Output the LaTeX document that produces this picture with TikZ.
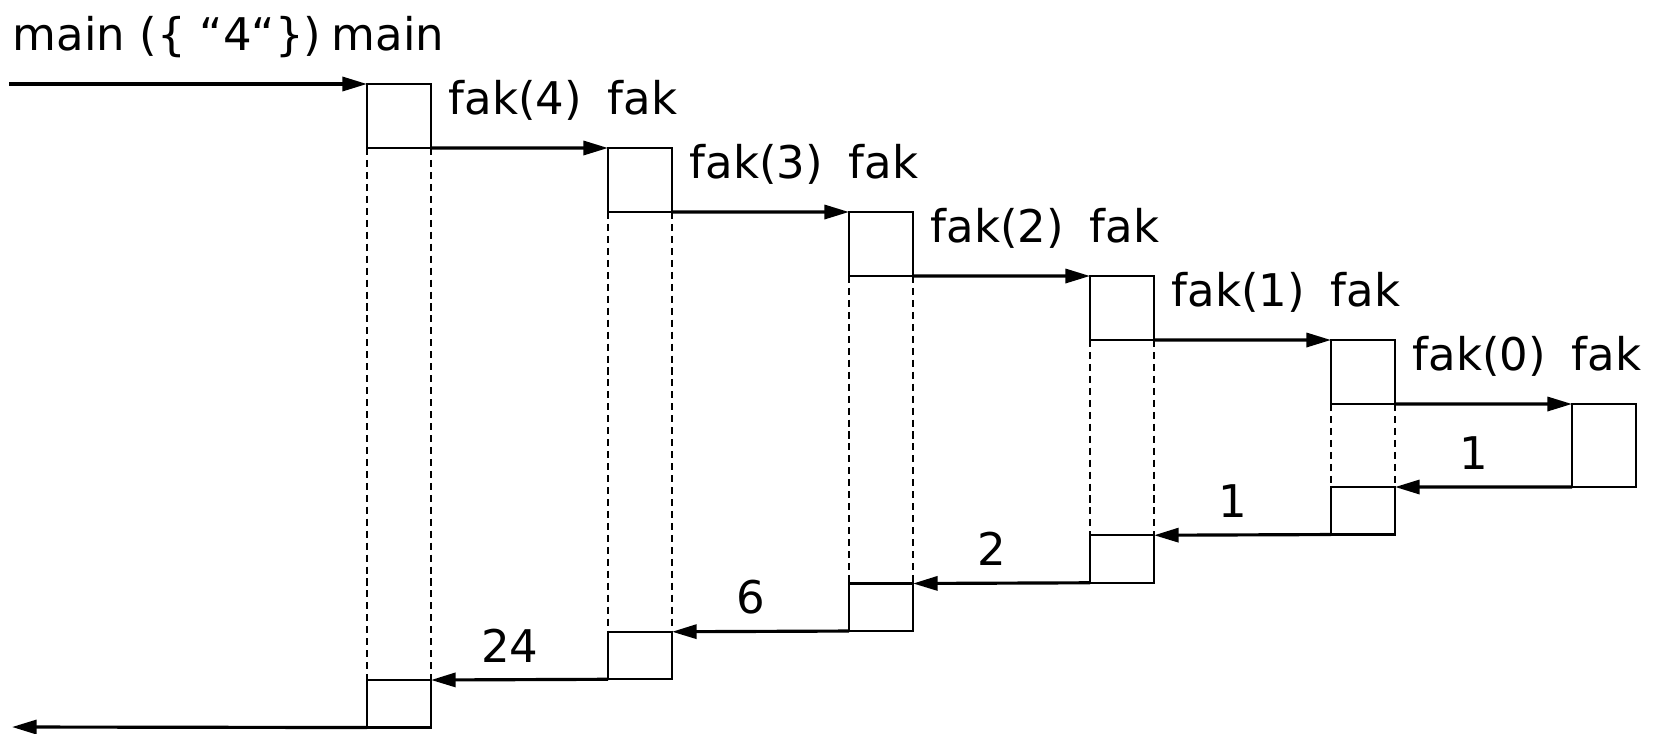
\documentclass[tikz,border=0pt]{standalone}
\usepackage{fontspec}
\setmainfont{DejaVu Sans}
\usetikzlibrary{arrows.meta}
\begin{document}
\begin{tikzpicture}[
		x=0.01cm, y=-0.01cm,
		>={Triangle[length=7pt,width=4pt]},
		box/.style={draw=black, line width=0.6pt, rectangle,
			inner sep=0pt, outer sep=0pt, minimum width=0.64cm,
			anchor=north west},
		aufruf/.style={box, minimum height=0.64cm},
		rueck/.style={box, minimum height=0.475cm},
		msg/.style={->, line width=0.9pt, black},
		leben/.style={line width=0.5pt, black,
			dash pattern=on 2pt off 1.4pt},
		etik/.style={font=\fontsize{12.8}{15}\selectfont, inner sep=0pt}]
	
	\useasboundingbox (0,0) rectangle (1660,733);
	
	\def\dx{241}      %% passo orizzontale fra le attivazioni
	\def\dy{64}       %% altezza box di chiamata
	\def\dr{48.25}    %% passo dei box di ritorno
	
	%% --- box di chiamata ---
	\foreach \i in {0,...,4}
		\node[aufruf] (c\i) at ({367+\dx*\i},{84+\dy*\i}) {};
	\node[box, minimum height=0.83cm] (c5) at ({367+\dx*5},{84+\dy*5}) {};
	
	%% --- box di ritorno ---
	\foreach \i in {0,...,4}
		\node[rueck] (r\i) at ({367+\dx*\i},{680-\dr*\i}) {};
	
	%% --- linee di vita tratteggiate ---
	\foreach \i in {0,...,4} {
		\draw[leben] (c\i.south west) -- (r\i.north west);
		\draw[leben] (c\i.south east) -- (r\i.north east);
	}
	
	%% --- chiamate ---
	\coordinate (ein) at (9,84);
	\draw[msg] (ein) -- (c0.north west);
	\foreach \i [evaluate=\i as \j using int(\i+1)] in {0,...,4}
		\draw[msg] (c\i.south east) -- (c\j.north west);
	
	%% --- ritorni ---
	\foreach \i [evaluate=\i as \j using int(\i+1)] in {0,...,3}
		\draw[msg] (r\j.south west) -- (r\i.north east);
	\draw[msg] (c5.south west) -- (r4.north east);
	\coordinate (aus) at (12,727);
	\draw[msg] (r0.south west) -- (aus);
	
	%% --- etichette ---
	\node[etik, anchor=base west] (mcall) at (12,50) {main (\{ “4“\})};
	\node[etik, anchor=base east] (mname) at (445,50) {main};
	\foreach \i/\n in {0/4,1/3,2/2,3/1,4/0} {
		\node[etik, anchor=base west] (fcall\i) at ({448+\dx*\i},{114+\dy*\i}) {fak(\n)};
		\node[etik, anchor=base east] (fname\i) at ({678+\dx*\i},{114+\dy*\i}) {fak};
	}
	\foreach \i/\w in {0/24,1/6,2/2,3/1,4/1}
		\node[etik, anchor=base] (wert\i) at ({510+\dx*\i},{662-\dr*\i}) {\w};
	
\end{tikzpicture}
\end{document}
